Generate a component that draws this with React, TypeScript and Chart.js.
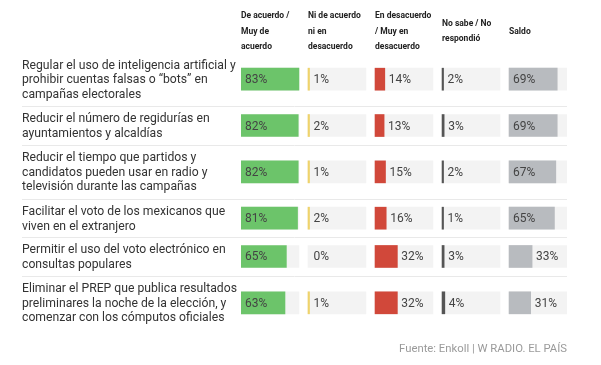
import React, { useEffect, useRef } from "react";
import { Chart, registerables } from "chart.js";
Chart.register(...registerables);

const questions: string[][] = [
  ["Regular el uso de inteligencia artificial y", "prohibir cuentas falsas o “bots” en", "campañas electorales"],
  ["Reducir el número de regidurías en", "ayuntamientos y alcaldías"],
  ["Reducir el tiempo que partidos y", "candidatos pueden usar en radio y", "televisión durante las campañas"],
  ["Facilitar el voto de los mexicanos que", "viven en el extranjero"],
  ["Permitir el uso del voto electrónico en", "consultas populares"],
  ["Eliminar el PREP que publica resultados", "preliminares la noche de la elección, y", "comenzar con los cómputos oficiales"],
];

const columnHeaders: string[][] = [
  ["De acuerdo /", "Muy de", "acuerdo"],
  ["Ni de acuerdo", "ni en", "desacuerdo"],
  ["En desacuerdo", "/ Muy en", "desacuerdo"],
  ["No sabe / No", "respondió"],
  ["Saldo"],
];

const deAcuerdo = [83, 82, 82, 81, 65, 63];
const niNi = [1, 2, 1, 2, 0, 1];
const enDesacuerdo = [14, 13, 15, 16, 32, 32];
const noSabe = [2, 3, 2, 1, 3, 4];
const saldo = [69, 69, 67, 65, 33, 31];

const source = "Fuente: Enkoll | W RADIO. EL PAÍS";

const series = [deAcuerdo, niNi, enDesacuerdo, noSabe, saldo];
const colors = ["#6cc46a", "#efd36b", "#d1483a", "#555555", "#b8bbbf"];
const minLen = [0, 1.5, 0, 1.5, 0];

const LINE_FONT = "12.2px Roboto";

export default function App() {
  const ref = useRef<HTMLCanvasElement>(null);
  useEffect(() => {
    const canvas = ref.current!;
    const trackMax = Math.max(...series.flat());
    const gap = 13;
    const pitch = trackMax + gap;
    const xMax = pitch * (series.length - 1) + trackMax;

    // row layout from label line counts
    const rowHeights = questions.map((q) => q.length * 16 + 6);
    const rowStarts: number[] = [];
    let acc = 0;
    rowHeights.forEach((h) => {
      rowStarts.push(acc);
      acc += h;
    });
    const yMax = acc;
    const centers = rowStarts.map((s, i) => s + rowHeights[i] / 2);

    const datasets: any[] = series.map((vals, ci) => ({
      label: "c" + ci,
      data: vals.map((v, ri) => ({
        x: v === 0 ? null : [ci * pitch, ci * pitch + v],
        y: centers[ri],
      })),
      backgroundColor: colors[ci],
      minBarLength: minLen[ci],
      barThickness: 22,
      order: 0,
    }));
    datasets.push({
      label: "track",
      data: series.flatMap((vals, ci) =>
        vals.map((_, ri) => ({ x: [ci * pitch, ci * pitch + trackMax], y: centers[ri] }))
      ),
      backgroundColor: "#f3f3f3",
      barThickness: 22,
      order: 10,
    });

    const textPlugin = {
      id: "texts",
      afterDraw(chart: any) {
        const ctx = chart.ctx as CanvasRenderingContext2D;
        const xs = chart.scales.x;
        const ys = chart.scales.y;
        const area = chart.chartArea;
        ctx.save();
        // separators
        ctx.strokeStyle = "#e9e9e9";
        ctx.lineWidth = 1;
        for (let i = 1; i < rowStarts.length; i++) {
          const y = Math.round(ys.getPixelForValue(rowStarts[i])) + 0.5;
          ctx.beginPath();
          ctx.moveTo(22, y);
          ctx.lineTo(area.right, y);
          ctx.stroke();
        }
        // question labels
        ctx.fillStyle = "#333333";
        ctx.font = LINE_FONT;
        ctx.textBaseline = "middle";
        ctx.textAlign = "left";
        const lh = 14.5;
        questions.forEach((lines, ri) => {
          const cy = ys.getPixelForValue(centers[ri]) + 1;
          lines.forEach((t, li) => {
            ctx.fillText(t, 22, cy + (li - (lines.length - 1) / 2) * lh);
          });
        });
        // headers
        ctx.font = "bold 8.5px Roboto";
        ctx.fillStyle = "#222222";
        columnHeaders.forEach((lines, ci) => {
          const x0 = xs.getPixelForValue(ci * pitch);
          lines.forEach((t, li) => {
            ctx.fillText(t, x0, 31.5 + (li - (lines.length - 1) / 2) * 15.5);
          });
        });
        // values
        ctx.font = "12px Roboto";
        ctx.fillStyle = "#444444";
        series.forEach((vals, ci) => {
          vals.forEach((v, ri) => {
            const x0 = xs.getPixelForValue(ci * pitch);
            const x1 = xs.getPixelForValue(ci * pitch + v);
            const w = x1 - x0;
            const cy = ys.getPixelForValue(centers[ri]) + 1;
            const tx = w > 30 ? x0 + 4 : x0 + Math.max(w, minLen[ci]) + 4;
            ctx.fillText(v + "%", tx, cy);
          });
        });
        // source
        ctx.font = "11.3px Roboto";
        ctx.fillStyle = "#9a9a9a";
        ctx.textAlign = "right";
        ctx.fillText(source, area.right, 349);
        ctx.restore();
      },
    };

    const chart = new Chart(canvas, {
      type: "bar",
      data: { datasets },
      options: {
        animation: false,
        responsive: false,
        indexAxis: "y",
        grouped: false,
        layout: { padding: { left: 241, right: 34, top: 52, bottom: 35 } },
        plugins: { legend: { display: false }, tooltip: { enabled: false } },
        scales: {
          x: { type: "linear", min: 0, max: xMax, display: false, offset: false },
          y: { type: "linear", min: 0, max: yMax, reverse: true, display: false, offset: false },
        },
      } as any,
      plugins: [textPlugin],
    });
    return () => chart.destroy();
  }, []);
  return (
    <div style={{ position: "absolute", left: 0, top: 0, width: 601, height: 365, background: "#fff" }}>
      <canvas ref={ref} width={601} height={365} style={{ display: "block", width: 601, height: 365 }} />
    </div>
  );
}
